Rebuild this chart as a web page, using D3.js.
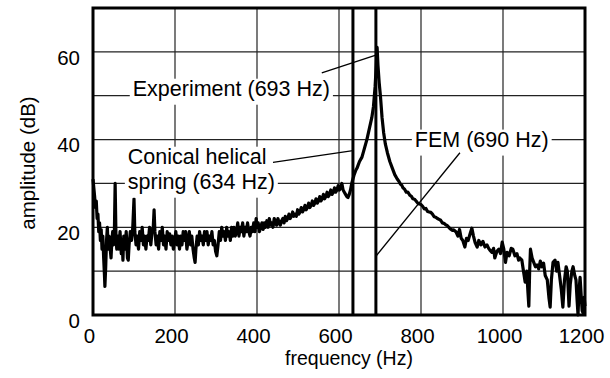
<!DOCTYPE html>
<html>
<head>
<meta charset="utf-8">
<script src="https://cdn.jsdelivr.net/npm/d3@7"></script>
<style>
  body { margin: 0; background: #fff; }
  text { font-family: "Liberation Sans", Arial, Helvetica, sans-serif; fill: #000; }
</style>
</head>
<body>
<div id="chart"></div>
<script>
// Measured spectrum: [frequency (Hz), amplitude (dB)]
const spectrum = [
  [0,31],[2,29],[4,27],[6,24.5],[8,26],[10,22],[12,23],[14,19],[16,21],[18,17],[20,19.5],[22,15],[24,18],[26,13],[28,9],[29,6.5],[31,11],[33,17],[35,20],[37,15],[39,18],[41,16],[43,14],[44,13],[46,17],[48,19],[50,16],[52,18],[54,30],[56,18],[58,15],[60,18],[63,15],[66,19],[69,14],[71,17],[73,12.5],[75,18],[78,15],[81,19],[84,13],[86,12.5],[88,16],[91,19],[94,17],[97,20],[100,26.5],[102,19],[105,16],[108,18],[111,15],[114,19],[117,17],[120,20],[123,16],[126,18],[129,15],[132,18],[135,17],[138,20],[141,16],[144,19],[147,20],[149,24],[151,19],[154,16],[157,18],[160,15],[163,19],[166,17],[169,20],[172,16],[175,18],[178,15],[181,19],[184,17],[187,18.5],[190,16],[193,18],[196,15],[199,17],
  [202,19],[205,16],[208,18],[211,15],[214,18],[217,16],[220,19],[223,17],[226,19],[229,15],[232,17],[235,19],[238,16],[241,18],[244,15],[247,13],[249,12],[251,15],[254,18],[257,16],[260,19],[263,17],[266,18],[269,16],[272,19],[275,17],[278,19],[281,16],[284,18],[287,17],[290,19],[293,16],[296,17],[299,14.5],[302,13.5],[305,16],[308,19],[311,17],[314,20],[317,18],[320,19],[323,17],[326,20],[329,18],[332,19],[335,17],[338,20],[341,18],[344,20],[347,18],[350,19],[353,21],[356,18],[359,20],[362,19],[365,21],[368,18],[371,20],[374,19],[377,21],[380,19],[383,18],[386,20],[389,19],[392,21],[395,19],[398,22],
  [400,20],[403,21],[406,19],[409,20],[412,21],[415,19.5],[418,21],[421,20],[424,21.5],[427,20],[430,22],[433,20.5],[436,21],[439,20],[442,22],[445,21],[448,20.5],[451,22],[454,21],[457,20.5],[460,21.5],[463,22],[466,21],[469,22.5],[472,21.5],[475,22],[478,23],[481,22],[484,22.5],[487,23.5],[490,22.5],[493,23],[496,22.5],[499,24],[502,23],[505,23.5],[508,24.5],[511,23.5],[514,24],[517,25],[520,24],[523,24.5],[526,25.5],[529,24.5],[532,25],[535,26],[538,25],[541,25.5],[544,26.5],[547,25.5],[550,26],[553,27],[556,26],[559,26.5],[562,27.5],[565,26.5],[568,27],[571,28],[574,27],[577,27.5],[580,28.5],[583,27.5],[586,28],[589,29],[592,28],[595,28.5],[598,29.5],
  [601,28.5],[604,29],[607,30],[610,28.5],[613,28],[616,27.5],[619,27],[622,26.8],[625,27.5],[628,28.5],[631,30],[634,31],[637,32],[641,33],[644,33.5],[650,35],[656,36],[662,38],[668,40],[674,42.5],[680,45],[684,47.5],[688,52],[691,57],[693,61],[695,57],[698,53],[701,50],[705,45],[709,41.5],[713,39],[718,37],[724,35],[730,33.5],[736,32],[742,31],[746,30.5],[750,29.8],[753,29.6],[756,29],[760,28.7],[764,28],[768,28],[773,27.3],[777,27],[780,26.5],[784,26.4],[788,26],[792,25.5],[796,25.3],
  [800,25.2],[804,24.8],[808,24.2],[812,24.3],[816,23.6],[820,23.5],[824,23.4],[828,23],[832,22.4],[836,22.3],[840,22],[844,21.8],[848,21.6],[852,21],[856,20.9],[861,20.5],[864,20.4],[868,20],[872,19.6],[876,19.3],[880,19.4],[885,19],[890,18],[894,19.5],[898,17.5],[902,17],[907,15.5],[911,17.5],[915,17],[920,18.6],[924,19.8],[928,18],[932,16.5],[937,15.5],[941,17],[946,16],[951,16.8],[956,15.5],[961,16],[965,15.2],[968,14.8],[973,14.3],[977,15.2],[980,13],[985,14.5],[990,15],[994,14],[998,16.6],
  [1002,15],[1006,12],[1010,14.3],[1015,13.5],[1020,15.2],[1024,15],[1029,13.5],[1034,14],[1038,12.5],[1041,13],[1046,12.5],[1050,10],[1054,7.5],[1058,10],[1061,5],[1063,2],[1065,10],[1067,15],[1071,13],[1075,12],[1079,11],[1083,11.4],[1087,10.5],[1091,12.3],[1095,11],[1099,11.8],[1103,9],[1108,8],[1112,4],[1115,1.8],[1118,8],[1122,12],[1127,12.5],[1131,10],[1134,12],[1138,9],[1142,6],[1146,1.8],[1150,8],[1154,11],[1157,10],[1161,2],[1164,7],[1168,10],[1171,11],[1175,9],[1178,8],[1181,3],[1183,0],[1185,5],[1188,8.6],[1191,4],[1193,1],[1195,0.5],[1198,4],[1200,2]
];

// Predicted natural frequencies drawn as vertical lines (Hz)
const modeLines = [634, 690];

// Axis ticks
const xTicks = [0, 200, 400, 600, 800, 1000, 1200];
const yTickLabels = [0, 20, 40, 60];
const yGrid = [10, 20, 30, 40, 50, 60];

// Annotations: text lines anchored in data units, leader from -> to
const labels = [
  { lines: ["Experiment (693 Hz)"], x: 97, y: 50, leader: [[558, 55.2], [688, 59.2]] },
  { lines: ["Conical helical", "spring (634 Hz)"], x: 85, y: 34.5, leader: [[439, 34.8], [634, 37.5]] },
  { lines: ["FEM (690 Hz)"], x: 785, y: 38.4, leader: [[895, 37], [690, 13.4]] }
];

const W = 610, H = 378;
const margin = { top: 8, right: 25, bottom: 63, left: 93 };
const width = W - margin.left - margin.right;
const height = H - margin.top - margin.bottom;

const svg = d3.select("#chart")
  .append("svg")
  .attr("width", W)
  .attr("height", H);

const g = svg.append("g")
  .attr("transform", `translate(${margin.left}, ${margin.top})`);

const x = d3.scaleLinear().domain([0, 1200]).range([0, width]);
const y = d3.scaleLinear().domain([0, 70]).range([height, 0]);

// Grid lines
g.append("g")
  .selectAll("line.vgrid")
  .data(xTicks.slice(1, -1))
  .join("line")
  .attr("x1", d => x(d)).attr("x2", d => x(d))
  .attr("y1", 0).attr("y2", height)
  .attr("stroke", "#222")
  .attr("stroke-width", 1.2);

g.append("g")
  .selectAll("line.hgrid")
  .data(yGrid)
  .join("line")
  .attr("x1", 0).attr("x2", width)
  .attr("y1", d => y(d)).attr("y2", d => y(d))
  .attr("stroke", "#222")
  .attr("stroke-width", 1.2);

// Mode lines
g.append("g")
  .selectAll("line")
  .data(modeLines)
  .join("line")
  .attr("x1", d => x(d)).attr("x2", d => x(d))
  .attr("y1", 0).attr("y2", height)
  .attr("stroke", "#000")
  .attr("stroke-width", 3);

// Spectrum
const line = d3.line()
  .x(d => x(d[0]))
  .y(d => y(d[1]));

g.append("path")
  .datum(spectrum)
  .attr("fill", "none")
  .attr("stroke", "#000")
  .attr("stroke-width", 3.2)
  .attr("stroke-linejoin", "round")
  .attr("d", line);

// Annotation boxes, text and leaders
labels.forEach(lab => {
  const grp = g.append("g");
  const box = grp.append("rect").attr("fill", "#fff");
  const t = grp.append("text")
    .attr("x", x(lab.x))
    .attr("y", y(lab.y))
    .style("font-size", "21.5px");
  lab.lines.forEach((s, i) => {
    t.append("tspan")
      .attr("x", x(lab.x))
      .attr("dy", i === 0 ? 0 : 25)
      .text(s);
  });
  const bb = t.node().getBBox();
  box.attr("x", bb.x - 3).attr("y", bb.y + 2)
    .attr("width", bb.width + 6).attr("height", bb.height + 2);
  g.append("line")
    .attr("x1", x(lab.leader[0][0])).attr("y1", y(lab.leader[0][1]))
    .attr("x2", x(lab.leader[1][0])).attr("y2", y(lab.leader[1][1]))
    .attr("stroke", "#000")
    .attr("stroke-width", 1.3);
});

// Frame
g.append("rect")
  .attr("x", 0).attr("y", 0)
  .attr("width", width).attr("height", height)
  .attr("fill", "none")
  .attr("stroke", "#000")
  .attr("stroke-width", 3);

// Tick labels
const xAxis = g.append("g")
  .attr("transform", `translate(0, ${height})`)
  .call(d3.axisBottom(x).tickValues(xTicks).tickFormat(d3.format("d")).tickSize(0).tickPadding(13));
xAxis.select(".domain").remove();
xAxis.selectAll("text")
  .attr("dx", -4)
  .style("font-size", "20.5px")
  .style("font-family", "'Liberation Sans', Arial, sans-serif");

const yAxis = g.append("g")
  .call(d3.axisLeft(y).tickValues(yTickLabels).tickSize(0).tickPadding(13));
yAxis.select(".domain").remove();
yAxis.selectAll("text")
  .attr("dy", "0.6em")
  .style("font-size", "20.5px")
  .style("font-family", "'Liberation Sans', Arial, sans-serif");

// Axis titles
svg.append("text")
  .attr("x", 349)
  .attr("y", 365)
  .attr("text-anchor", "middle")
  .style("font-size", "19.5px")
  .text("frequency (Hz)");

svg.append("text")
  .attr("transform", "translate(35, 163) rotate(-90)")
  .attr("text-anchor", "middle")
  .style("font-size", "20.5px")
  .text("amplitude (dB)");
</script>
</body>
</html>
